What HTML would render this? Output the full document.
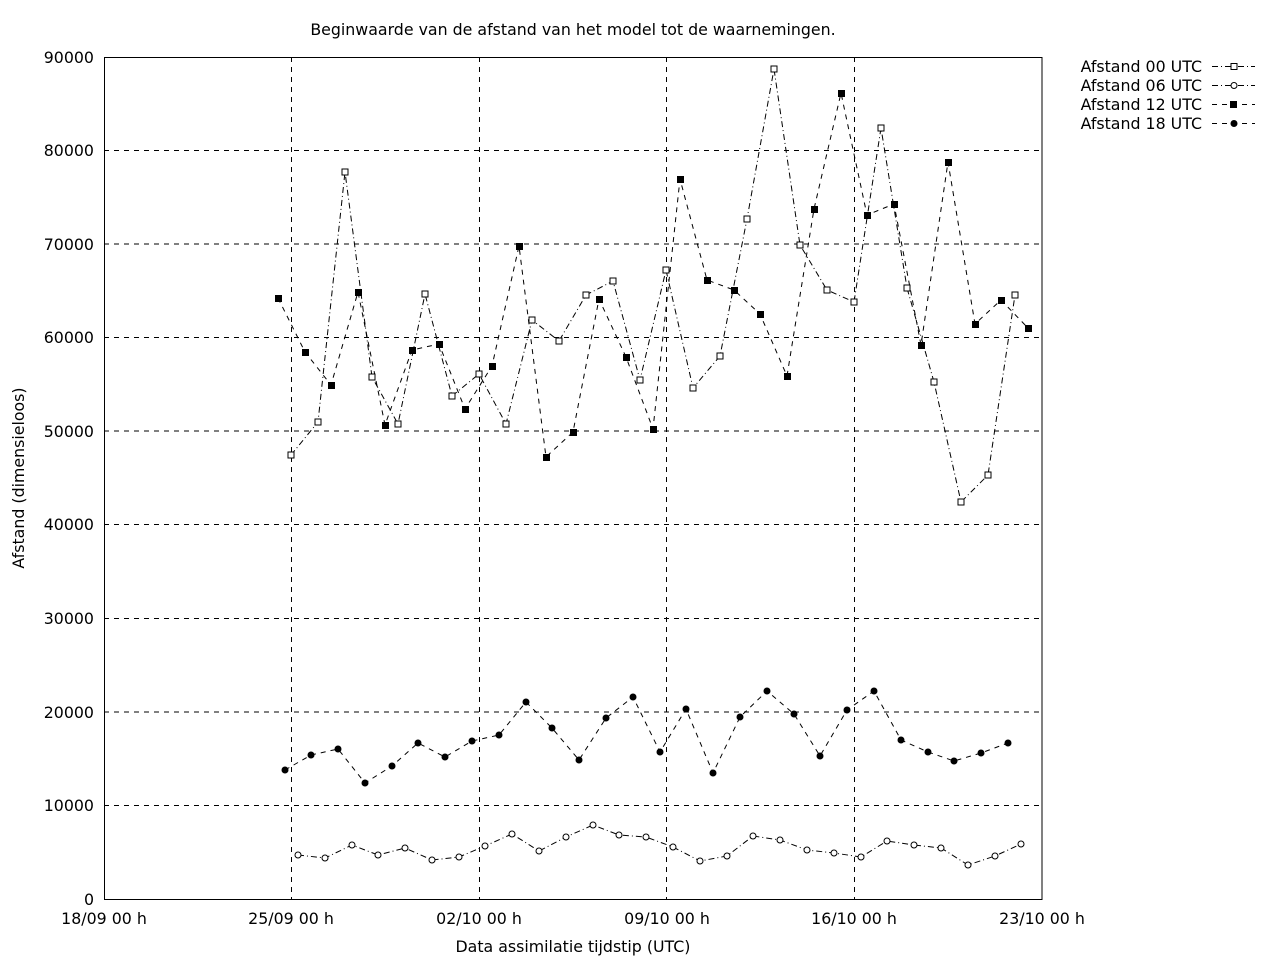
<!DOCTYPE html>
<html><head><meta charset="utf-8"><style>body{margin:0;background:#fff}svg{display:block}text{font-family:"DejaVu Sans","Liberation Sans",sans-serif;font-size:15.8px;fill:#000}</style></head><body>
<svg width="1280" height="960" xmlns="http://www.w3.org/2000/svg">
<text x="573" y="35" text-anchor="middle">Beginwaarde van de afstand van het model tot de waarnemingen.</text>
<g stroke="#000" stroke-width="1" stroke-dasharray="5,5" fill="none">
<line x1="104" y1="805.5" x2="1042" y2="805.5"/><line x1="104" y1="712" x2="1042" y2="712"/><line x1="104" y1="618.5" x2="1042" y2="618.5"/><line x1="104" y1="524.5" x2="1042" y2="524.5"/><line x1="104" y1="431" x2="1042" y2="431"/><line x1="104" y1="337.5" x2="1042" y2="337.5"/><line x1="104" y1="244" x2="1042" y2="244"/><line x1="104" y1="150.5" x2="1042" y2="150.5"/>
<line x1="291.5" y1="57" x2="291.5" y2="899"/><line x1="479.5" y1="57" x2="479.5" y2="899"/><line x1="666.5" y1="57" x2="666.5" y2="899"/><line x1="854.5" y1="57" x2="854.5" y2="899"/>
</g>
<rect x="104.5" y="57.5" width="937.5" height="842" fill="none" stroke="#000"/>
<g text-anchor="end">
<text x="94" y="905">0</text><text x="94" y="811">10000</text><text x="94" y="718">20000</text><text x="94" y="624">30000</text><text x="94" y="530">40000</text><text x="94" y="437">50000</text><text x="94" y="343">60000</text><text x="94" y="250">70000</text><text x="94" y="156">80000</text><text x="94" y="63">90000</text>
</g>
<g text-anchor="middle">
<text x="104" y="924">18/09 00 h</text><text x="291" y="924">25/09 00 h</text><text x="479" y="924">02/10 00 h</text><text x="667" y="924">09/10 00 h</text><text x="854" y="924">16/10 00 h</text><text x="1042" y="924">23/10 00 h</text>
<text x="573" y="952">Data assimilatie tijdstip (UTC)</text>
</g>
<text transform="translate(24,478) rotate(-90)" text-anchor="middle">Afstand (dimensieloos)</text>
<g fill="none" stroke="#000" stroke-dasharray="6,3,1,3">
<polyline points="291,455 318,422 345,172 372,377 398,424 425,294 452,396 479,374 506,424 532,320 559,341 586,295 613,281 640,380 666,270 693,388 720,356 747,219 774,69 800,245 827,290 854,302 881,128 907,288 934,382 961,502 988,475 1015,295"/>
<polyline points="298,855 325,858 352,845 378,855 405,848 432,860 459,857 485,846 512,834 539,851 566,837 593,825 619,835 646,837 673,847 700,861 727,856 753,836 780,840 807,850 834,853 861,857 887,841 914,845 941,848 968,865 995,856 1021,844"/>
</g>
<g fill="none" stroke="#000" stroke-dasharray="5,5">
<polyline points="278,298 305,352 331,385 358,292 385,425 412,350 439,344 465,409 492,366 519,246 546,457 573,432 599,299 626,357 653,429 680,179 707,280 734,290 760,314 787,376 814,209 841,93 867,215 894,204 921,345 948,162 975,324 1001,300 1028,328"/>
<polyline points="285,770 311,755 338,749 365,783 392,766 418,743 445,757 472,741 499,735 526,702 552,728 579,760 606,718 633,697 660,752 686,709 713,773 740,717 767,691 794,714 820,756 847,710 874,691 901,740 928,752 954,761 981,753 1008,743"/>
</g>
<g fill="#fff" stroke="#000">
<rect x="288" y="452" width="6" height="6"/><rect x="315" y="419" width="6" height="6"/><rect x="342" y="169" width="6" height="6"/><rect x="369" y="374" width="6" height="6"/><rect x="395" y="421" width="6" height="6"/><rect x="422" y="291" width="6" height="6"/><rect x="449" y="393" width="6" height="6"/><rect x="476" y="371" width="6" height="6"/><rect x="503" y="421" width="6" height="6"/><rect x="529" y="317" width="6" height="6"/><rect x="556" y="338" width="6" height="6"/><rect x="583" y="292" width="6" height="6"/><rect x="610" y="278" width="6" height="6"/><rect x="637" y="377" width="6" height="6"/><rect x="663" y="267" width="6" height="6"/><rect x="690" y="385" width="6" height="6"/><rect x="717" y="353" width="6" height="6"/><rect x="744" y="216" width="6" height="6"/><rect x="771" y="66" width="6" height="6"/><rect x="797" y="242" width="6" height="6"/><rect x="824" y="287" width="6" height="6"/><rect x="851" y="299" width="6" height="6"/><rect x="878" y="125" width="6" height="6"/><rect x="904" y="285" width="6" height="6"/><rect x="931" y="379" width="6" height="6"/><rect x="958" y="499" width="6" height="6"/><rect x="985" y="472" width="6" height="6"/><rect x="1012" y="292" width="6" height="6"/>
<circle cx="298" cy="855" r="3"/><circle cx="325" cy="858" r="3"/><circle cx="352" cy="845" r="3"/><circle cx="378" cy="855" r="3"/><circle cx="405" cy="848" r="3"/><circle cx="432" cy="860" r="3"/><circle cx="459" cy="857" r="3"/><circle cx="485" cy="846" r="3"/><circle cx="512" cy="834" r="3"/><circle cx="539" cy="851" r="3"/><circle cx="566" cy="837" r="3"/><circle cx="593" cy="825" r="3"/><circle cx="619" cy="835" r="3"/><circle cx="646" cy="837" r="3"/><circle cx="673" cy="847" r="3"/><circle cx="700" cy="861" r="3"/><circle cx="727" cy="856" r="3"/><circle cx="753" cy="836" r="3"/><circle cx="780" cy="840" r="3"/><circle cx="807" cy="850" r="3"/><circle cx="834" cy="853" r="3"/><circle cx="861" cy="857" r="3"/><circle cx="887" cy="841" r="3"/><circle cx="914" cy="845" r="3"/><circle cx="941" cy="848" r="3"/><circle cx="968" cy="865" r="3"/><circle cx="995" cy="856" r="3"/><circle cx="1021" cy="844" r="3"/>
</g>
<g fill="#000">
<rect x="275" y="295" width="7" height="7"/><rect x="302" y="349" width="7" height="7"/><rect x="328" y="382" width="7" height="7"/><rect x="355" y="289" width="7" height="7"/><rect x="382" y="422" width="7" height="7"/><rect x="409" y="347" width="7" height="7"/><rect x="436" y="341" width="7" height="7"/><rect x="462" y="406" width="7" height="7"/><rect x="489" y="363" width="7" height="7"/><rect x="516" y="243" width="7" height="7"/><rect x="543" y="454" width="7" height="7"/><rect x="570" y="429" width="7" height="7"/><rect x="596" y="296" width="7" height="7"/><rect x="623" y="354" width="7" height="7"/><rect x="650" y="426" width="7" height="7"/><rect x="677" y="176" width="7" height="7"/><rect x="704" y="277" width="7" height="7"/><rect x="731" y="287" width="7" height="7"/><rect x="757" y="311" width="7" height="7"/><rect x="784" y="373" width="7" height="7"/><rect x="811" y="206" width="7" height="7"/><rect x="838" y="90" width="7" height="7"/><rect x="864" y="212" width="7" height="7"/><rect x="891" y="201" width="7" height="7"/><rect x="918" y="342" width="7" height="7"/><rect x="945" y="159" width="7" height="7"/><rect x="972" y="321" width="7" height="7"/><rect x="998" y="297" width="7" height="7"/><rect x="1025" y="325" width="7" height="7"/>
<circle cx="285" cy="770" r="3.5"/><circle cx="311" cy="755" r="3.5"/><circle cx="338" cy="749" r="3.5"/><circle cx="365" cy="783" r="3.5"/><circle cx="392" cy="766" r="3.5"/><circle cx="418" cy="743" r="3.5"/><circle cx="445" cy="757" r="3.5"/><circle cx="472" cy="741" r="3.5"/><circle cx="499" cy="735" r="3.5"/><circle cx="526" cy="702" r="3.5"/><circle cx="552" cy="728" r="3.5"/><circle cx="579" cy="760" r="3.5"/><circle cx="606" cy="718" r="3.5"/><circle cx="633" cy="697" r="3.5"/><circle cx="660" cy="752" r="3.5"/><circle cx="686" cy="709" r="3.5"/><circle cx="713" cy="773" r="3.5"/><circle cx="740" cy="717" r="3.5"/><circle cx="767" cy="691" r="3.5"/><circle cx="794" cy="714" r="3.5"/><circle cx="820" cy="756" r="3.5"/><circle cx="847" cy="710" r="3.5"/><circle cx="874" cy="691" r="3.5"/><circle cx="901" cy="740" r="3.5"/><circle cx="928" cy="752" r="3.5"/><circle cx="954" cy="761" r="3.5"/><circle cx="981" cy="753" r="3.5"/><circle cx="1008" cy="743" r="3.5"/>
</g>
<g text-anchor="end">
<text x="1202" y="72">Afstand 00 UTC</text><text x="1202" y="91">Afstand 06 UTC</text><text x="1202" y="110">Afstand 12 UTC</text><text x="1202" y="129">Afstand 18 UTC</text>
</g>
<g stroke="#000" fill="none">
<line x1="1212" y1="66.5" x2="1255" y2="66.5" stroke-dasharray="6,3,1,3"/>
<line x1="1212" y1="85.5" x2="1255" y2="85.5" stroke-dasharray="6,3,1,3"/>
<line x1="1212" y1="104.5" x2="1255" y2="104.5" stroke-dasharray="5,5"/>
<line x1="1212" y1="123.5" x2="1255" y2="123.5" stroke-dasharray="5,5"/>
<rect x="1231" y="63.5" width="6" height="6" fill="#fff"/><circle cx="1234" cy="85.5" r="3" fill="#fff"/>
</g>
<rect x="1230" y="101" width="7" height="7"/><circle cx="1234" cy="123.5" r="3.5"/>
</svg>
</body></html>
